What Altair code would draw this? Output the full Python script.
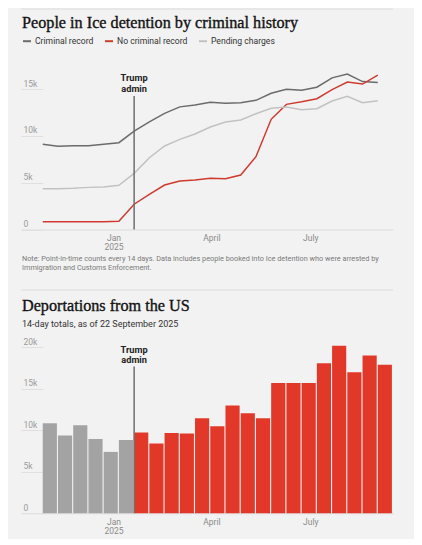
import altair as alt
import pandas as pd

# ---------------- data ----------------
period_start = [
    "2024-10-28", "2024-11-11", "2024-11-25", "2024-12-09", "2024-12-23",
    "2025-01-06", "2025-01-20", "2025-02-03", "2025-02-17", "2025-03-03",
    "2025-03-17", "2025-03-31", "2025-04-14", "2025-04-28", "2025-05-12",
    "2025-05-26", "2025-06-09", "2025-06-23", "2025-07-07", "2025-07-21",
    "2025-08-04", "2025-08-18", "2025-09-01",
]

series_names = ["Criminal record", "No criminal record", "Pending charges"]
series_colors = ["#6b6b6b", "#cf3a2e", "#c2c2c2"]

criminal_record = [9100, 8900, 8950, 8950, 9100, 9270, 10500, 11500, 12400, 13100,
                   13300, 13600, 13500, 13550, 13800, 14550, 14970, 14870, 15200,
                   16200, 16600, 15800, 15700]
no_criminal_record = [830, 830, 840, 840, 840, 870, 2700, 3760, 4750, 5180,
                      5300, 5470, 5430, 5820, 7780, 11770, 13370, 13650, 13970,
                      14940, 15760, 15540, 16500]
pending_charges = [4360, 4360, 4400, 4500, 4550, 4720, 6000, 7670, 8920, 9630,
                   10200, 10950, 11480, 11700, 12370, 12950, 13090, 12800, 12900,
                   13730, 14230, 13550, 13760]

deportations = [10840, 9360, 10600, 8960, 7400, 8840, 9720, 8400, 9680, 9600,
                11450, 10480, 13000, 12050, 11450, 15700, 15700, 15700, 18070,
                20200, 17000, 19000, 17900]
deport_period = ["Before"] * 6 + ["Trump"] * 17
bar_colors = ["#a3a3a3", "#e2382a"]

trump_date = "2025-01-20"

line_ticks = [0, 5000, 10000, 15000]
bar_ticks = [0, 5000, 10000, 15000, 20000]

title1 = "People in Ice detention by criminal history"
note1 = ["Note: Point-in-time counts every 14 days. Data includes people booked into Ice detention who were arrested by",
         "Immigration and Customs Enforcement."]
title2 = "Deportations from the US"
subtitle2 = "14-day totals, as of 22 September 2025"
trump_label = ["Trump", "admin"]

# ---------------- frames ----------------
lines_df = pd.DataFrame({
    "date": period_start * 3,
    "series": [s for s in series_names for _ in period_start],
    "value": criminal_record + no_criminal_record + pending_charges,
})
bars_df = pd.DataFrame({
    "start": period_start,
    "end": [(pd.Timestamp(d) + pd.Timedelta(days=13)).strftime("%Y-%m-%d") for d in period_start],
    "value": deportations,
    "period": deport_period,
})
trump_df = pd.DataFrame({"date": [trump_date]})

W = 372
H1 = 168.5
H2 = 174.3
BG = "#f2f2f2"
SANS = "Roboto"
SERIF = "Liberation Serif"

xscale = alt.Scale(type="utc", domain=[alt.DateTime(year=2024, month=10, date=8, utc=True),
                                       alt.DateTime(year=2025, month=9, date=15, utc=True)])
xaxis = alt.Axis(
    values=[alt.DateTime(year=2025, month=1, date=1, utc=True),
            alt.DateTime(year=2025, month=4, date=1, utc=True),
            alt.DateTime(year=2025, month=7, date=1, utc=True)],
    labelExpr="utcFormat(datum.value, '%m') == '01' ? ['Jan', '2025'] : utcFormat(datum.value, '%B')",
    title=None, ticks=False, grid=False, domain=True, domainColor="#dcdcdc", domainWidth=1,
    labelColor="#8a8a8a", labelFontSize=8.5, labelFont=SANS, labelPadding=4, labelLineHeight=9,
)


def yaxis(ticks):
    return alt.Axis(
        values=ticks, title=None, grid=False, domain=False, ticks=True, tickSize=22,
        tickColor="#e0e0e0", offset=-22, labelAlign="left", labelBaseline="bottom",
        labelPadding=-2, labelOffset=-1, labelColor="#9a9a9a", labelFontSize=8.5, labelFont=SANS,
        labelExpr="datum.value == 0 ? '0' : (datum.value / 1000) + 'k'",
    )


def text_layer(txt, x, y, **kw):
    return alt.Chart(pd.DataFrame({"t": [0]})).mark_text(align="left", **kw).encode(
        x=alt.value(x), y=alt.value(y), text=alt.value(txt))


# ---------------- panel 1 ----------------
lines = alt.Chart(lines_df).mark_line(strokeWidth=1.5).encode(
    x=alt.X("date:T", scale=xscale, axis=xaxis),
    y=alt.Y("value:Q", scale=alt.Scale(domain=[0, 18000], nice=False), axis=yaxis(line_ticks)),
    color=alt.Color("series:N", scale=alt.Scale(domain=series_names, range=series_colors),
                    legend=alt.Legend(orient="none", legendX=1, legendY=-25, direction="horizontal",
                                      title=None, symbolType="stroke", symbolStrokeWidth=2,
                                      symbolSize=64, labelFontSize=8.6, labelFont=SANS,
                                      labelColor="#333333", columnPadding=7, labelOffset=3)),
)
rule1 = alt.Chart(trump_df).mark_rule(color="#6e6e6e", strokeWidth=1.5).encode(
    x="date:T", y=alt.value(35), y2=alt.value(H1))
tlabel1 = alt.Chart(trump_df).mark_text(align="center", baseline="top", fontWeight="bold",
                                        fontSize=9.2, lineHeight=10.5, color="#222222", font=SANS).encode(
    x="date:T", y=alt.value(13), text=alt.value(trump_label))
sep0 = alt.Chart(trump_df).mark_rule(color="#dcdcdc", strokeWidth=1).encode(
    x=alt.value(0), x2=alt.value(W), y=alt.value(-52))
t1 = text_layer(title1, 1, -38, baseline="middle", font=SERIF, fontSize=16.2, color="#121212",
                stroke="#121212", strokeWidth=0.35)
n1 = text_layer(note1, 1, 194, baseline="top", font=SANS, fontSize=7.3, lineHeight=8.7, color="#7a7a7a")

panel1 = alt.layer(lines, rule1, tlabel1, sep0, t1, n1).properties(width=W, height=H1)

# ---------------- panel 2 ----------------
bars = alt.Chart(bars_df).mark_rect().encode(
    x=alt.X("start:T", scale=xscale, axis=xaxis),
    x2="end:T",
    y=alt.Y("value:Q", scale=alt.Scale(domain=[0, 21000], nice=False), axis=yaxis(bar_ticks)),
    y2=alt.datum(0),
    color=alt.Color("period:N", scale=alt.Scale(domain=["Before", "Trump"], range=bar_colors), legend=None),
)
rule2 = alt.Chart(trump_df).mark_rule(color="#6e6e6e", strokeWidth=1.5).encode(
    x="date:T", y=alt.value(27.6), y2=alt.value(H2))
tlabel2 = alt.Chart(trump_df).mark_text(align="center", baseline="top", fontWeight="bold",
                                        fontSize=9.2, lineHeight=10.5, color="#222222", font=SANS).encode(
    x="date:T", y=alt.value(6.8), text=alt.value(trump_label))
sep1 = alt.Chart(trump_df).mark_rule(color="#dcdcdc", strokeWidth=1).encode(
    x=alt.value(0), x2=alt.value(W), y=alt.value(-49))
t2 = text_layer(title2, 1, -33.4, baseline="middle", font=SERIF, fontSize=16.2, color="#121212",
                stroke="#121212", strokeWidth=0.35)
s2 = text_layer(subtitle2, 1, -15.4, baseline="middle", font=SANS, fontSize=9, color="#333333")

panel2 = alt.layer(bars, rule2, tlabel2, sep1, t2, s2).properties(width=W, height=H2)

chart = alt.vconcat(panel1, panel2, spacing=109, bounds="flush").resolve_scale(
    color="independent"
).properties(
    padding={"left": 12, "top": 0, "right": 20, "bottom": 4},
    background=BG,
).configure_view(stroke=None)

chart.save("out.html", embed_options={"renderer": "svg", "actions": False})
